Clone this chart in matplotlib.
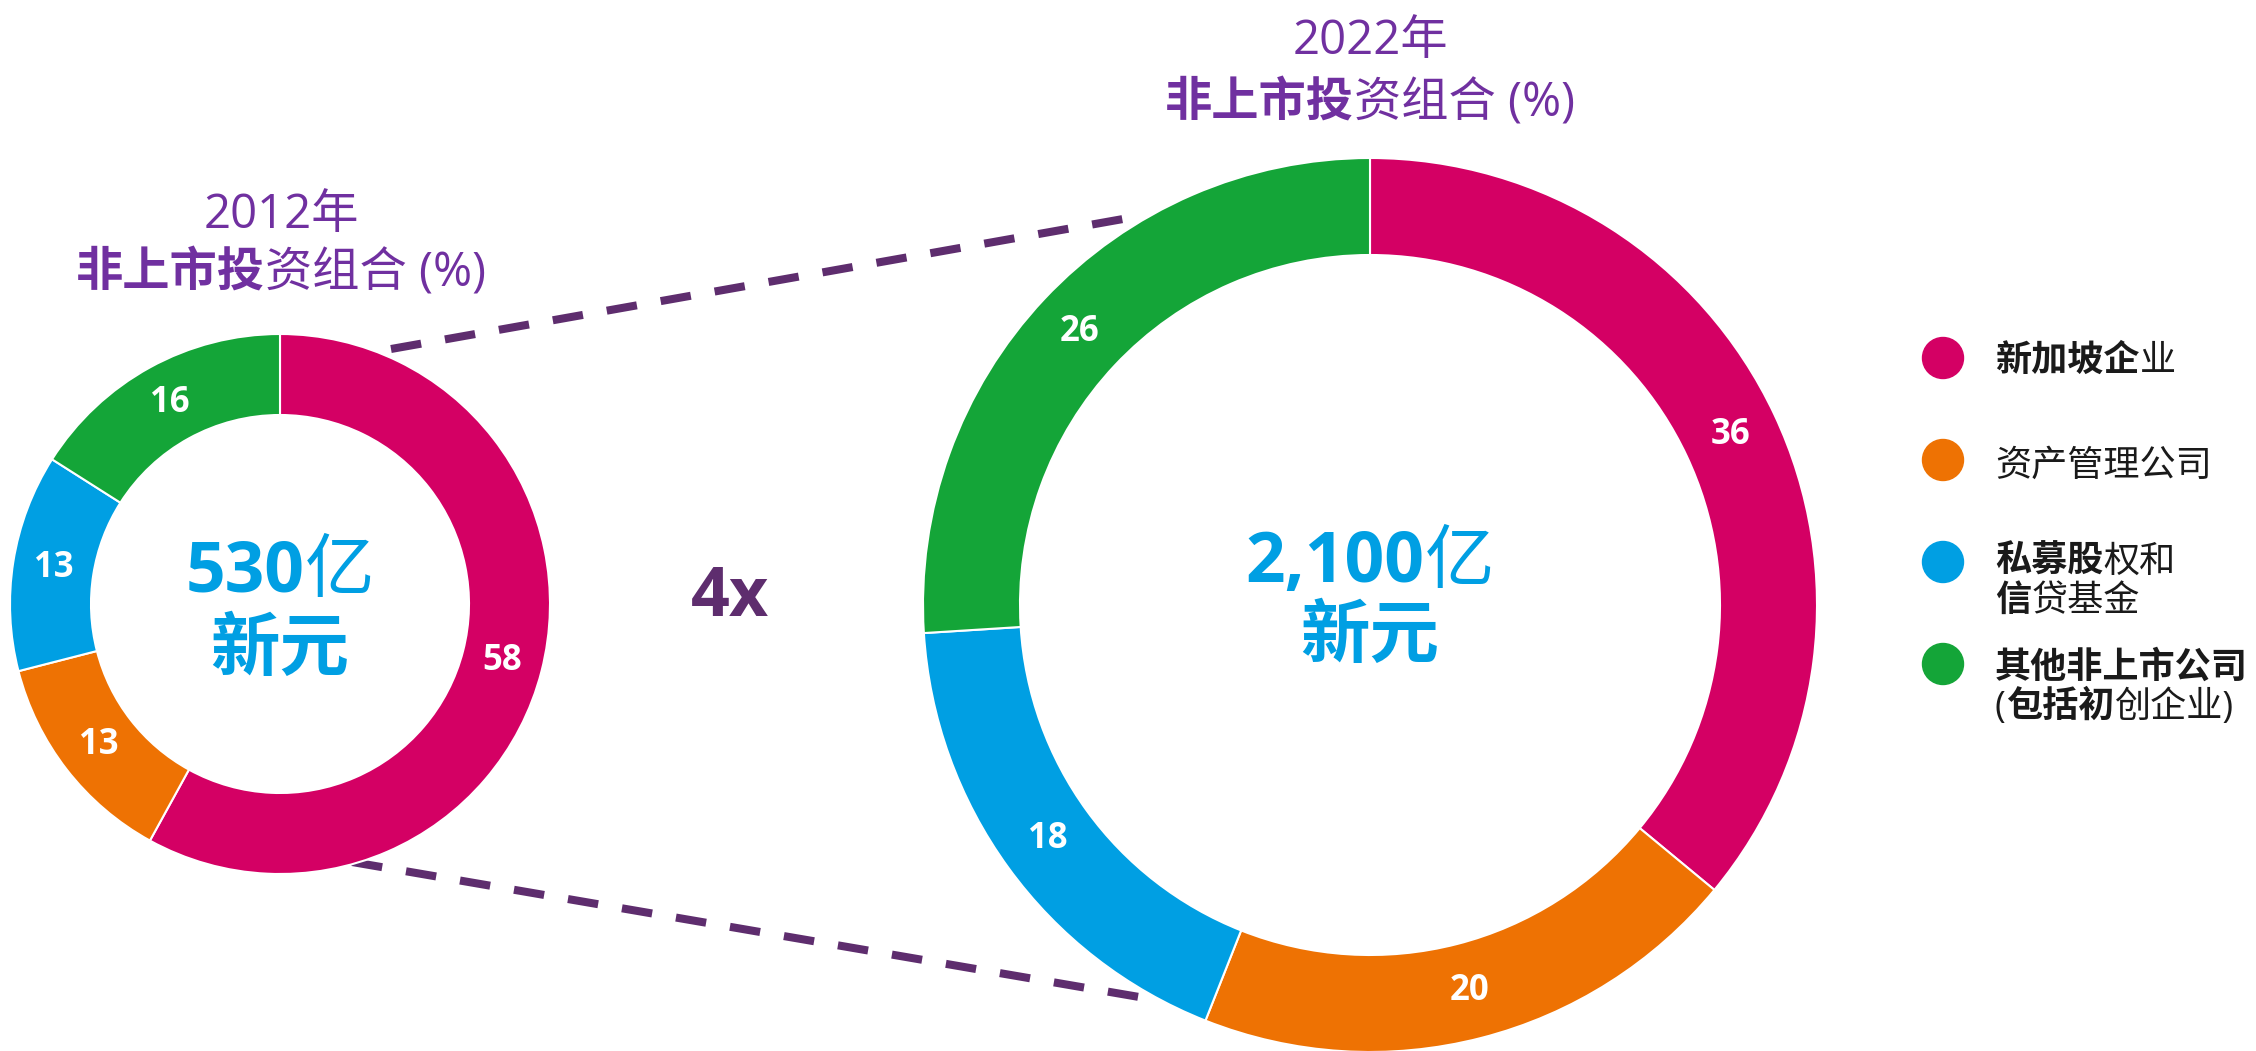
import matplotlib
matplotlib.use("Agg")
import matplotlib.pyplot as plt

# ---------------- data ----------------
categories = ["新加坡企业", "资产管理公司", "私募股权和信贷基金", "其他非上市公司(包括初创企业)"]
values_2012 = [58, 13, 13, 16]
values_2022 = [36, 20, 18, 26]
total_2012 = "530"
total_2022 = "2,100"
multiplier = "4x"
colors = ["#D40064", "#EE7203", "#009FE3", "#14A538"]

FAM = ["Open Sans", "Noto Sans CJK SC", "DejaVu Sans"]
PURPLE = "#7030A0"
DARKP = "#5E2D6E"
BLUE = "#009FE3"

W, H = 2256, 1051
fig = plt.figure(figsize=(W / 100, H / 100), dpi=100)
ax = fig.add_axes([0, 0, 1, 1])


def Y(y):
    return H - y


def rich(x, y, segs, size, color, ha="center", zorder=5):
    texts = [ax.text(0, Y(y), s, fontsize=size, color=color, fontweight=w,
                     family=FAM, ha="left", va="baseline", zorder=zorder)
             for s, w in segs]
    r = fig.canvas.get_renderer()
    widths = [t.get_window_extent(r).width for t in texts]
    total = sum(widths)
    if ha == "center":
        x0 = x - total / 2
    elif ha == "right":
        x0 = x - total
    else:
        x0 = x
    for t, w in zip(texts, widths):
        t.set_x(x0)
        x0 += w
    return texts


# ---------------- donuts ----------------
def donut(vals, cx, cy, R, width):
    ax.pie(vals, colors=colors, startangle=90, counterclock=False,
           center=(cx, Y(cy)), radius=R,
           wedgeprops=dict(width=width, edgecolor="white", linewidth=1.5),
           autopct=lambda p: f"{p:.0f}", pctdistance=(R - width / 2) / R,
           textprops=dict(color="white", fontsize=25, fontweight="bold",
                          family=FAM))


donut(values_2012, 280, 604, 270, 81)
donut(values_2022, 1370, 605, 447, 97)

# dashed connector lines (behind donuts)
ax.plot([391, 1140], [Y(349), Y(216)], color=DARKP, lw=5.8,
        dashes=(3.8, 3.0), zorder=0, solid_capstyle="butt")
ax.plot([352, 1145], [Y(862), Y(998)], color=DARKP, lw=5.8,
        dashes=(3.8, 3.0), zorder=0, solid_capstyle="butt")

ax.set_xlim(0, W)
ax.set_ylim(0, H)
ax.set_aspect("auto")
ax.axis("off")

# ---------------- centre texts ----------------
rich(280, 591, [(total_2012, "bold"), ("亿", "normal")], 50, BLUE)
rich(280, 670, [("新元", "bold")], 50, BLUE)
rich(1370, 582, [(total_2022, "bold"), ("亿", "normal")], 50, BLUE)
rich(1370, 657, [("新元", "bold")], 50, BLUE)

ax.text(730, Y(598), multiplier, fontsize=49, fontweight="bold", color=DARKP,
        family=FAM, ha="center", va="center")

# ---------------- titles ----------------
rich(281, 228, [("2012年", "normal")], 34, PURPLE)
rich(281, 286, [("非上市投", "bold"), ("资组合 (%)", "normal")], 34, PURPLE)
rich(1370, 54, [("2022年", "normal")], 34, PURPLE)
rich(1370, 116, [("非上市投", "bold"), ("资组合 (%)", "normal")], 34, PURPLE)

# ---------------- legend ----------------
legend_rows = [
    (358, [[("新加坡企", "bold"), ("业", "normal")]]),
    (460, [[("资产管理公司", "normal")]]),
    (562, [[("私募股", "bold"), ("权和", "normal")], [("信", "bold"), ("贷基金", "normal")]]),
    (664, [[("其他非上市公司", "bold")], [("(", "normal"), ("包括初", "bold"), ("创企业)", "normal")]]),
]
baselines = [[371], [476], [572, 611], [678, 717]]
for (cy, lines), bls, col in zip(legend_rows, baselines, colors):
    ax.add_patch(plt.Circle((1943, Y(cy)), 20.5, color=col, zorder=3))
    for segs, bl in zip(lines, bls):
        rich(1995, bl, segs, 26, "#1A1A1A", ha="left")

fig.savefig("out.png", dpi=100)
